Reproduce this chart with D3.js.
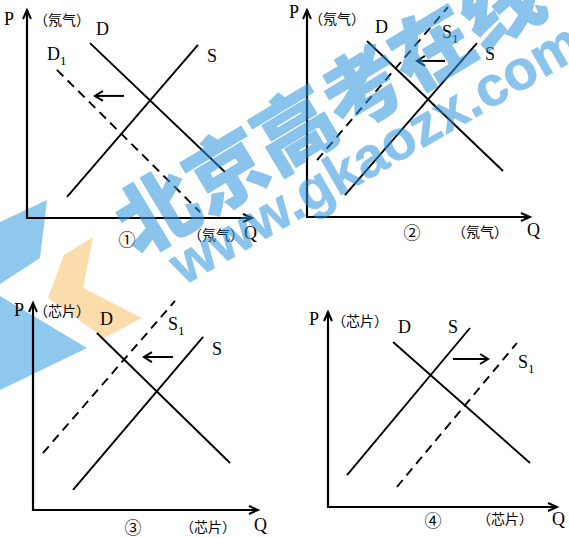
<!DOCTYPE html>
<html>
<head>
<meta charset="utf-8">
<script src="https://cdn.jsdelivr.net/npm/d3@7"></script>
<style>
  body { margin: 0; background: #fff; }
  svg { display: block; }
</style>
</head>
<body>
<div id="chart"></div>
<script>
// ---- data (axis units 0..10) ----
var panelNumbers = ['①', '②', '③', '④'];
var goods = ['氖气', '氖气', '芯片', '芯片'];
// [x1, y1, x2, y2]
var demandLines = [[2.8, 8.41, 8.8, 2.21], [2.69, 8.5, 8.79, 2.22], [2.84, 8.55, 8.76, 2.27], [2.84, 8.46, 8.82, 2.26]];
var supplyLines = [[1.78, 1.01, 7.6, 8.32], [1.7, 1.06, 7.62, 8.4], [1.78, 0.97, 7.56, 8.36], [0.83, 1.64, 6.2, 9.18]];
var shiftedNames = ['D', 'S', 'S', 'S'];
var shiftedLines = [[1.33, 7.12, 7.69, 0.29], [0.45, 2.75, 6.32, 10.14], [0.44, 2.75, 6.31, 10.1], [3.01, 1.03, 8.25, 8.41]];
// [xFrom, xTo, y]
var shiftArrows = [[4.31, 3.02, 5.87], [6.19, 4.93, 7.54], [6.22, 4.93, 7.39], [5.46, 6.99, 7.59]];

// ---- layout (pixels) ----
var frames = [
	{ ox: 27, oy: 218, xEnd: 252, yEnd: 10, p: [4, 25], top: [34, 25], num: [127, 238], bottom: [188, 240], q: [244, 239],
		dLab: [6, -8], sLab: [9, 17], s1Lab: [-10, -10] },
	{ ox: 307, oy: 217, xEnd: 530, yEnd: 10, p: [289, 18], top: [309, 24], num: [412, 231], bottom: [452, 237], q: [527, 236],
		dLab: [8, -8], sLab: [8, 17], s1Lab: [-6, 31] },
	{ ox: 33, oy: 510, xEnd: 258, yEnd: 303, p: [14, 316], top: [34, 316], num: [133, 526], bottom: [180, 532], q: [254, 531],
		dLab: [3, -8], sLab: [9, 18], s1Lab: [-7, 29] },
	{ ox: 328, oy: 507, xEnd: 557, yEnd: 312, p: [309, 325], top: [332, 326], num: [433, 519], bottom: [477, 524], q: [552, 525],
		dLab: [5, -9], sLab: [-22, 5], s1Lab: [1, 25] }
];

var width = 569;
var height = 538;
var latinFont = '"Liberation Serif", "DejaVu Serif", serif';
var cjkFont = '"Noto Sans CJK SC", sans-serif';

var svg = d3.select('#chart')
	.append('svg')
	.attr('width', width)
	.attr('height', height);

svg.append('rect')
	.attr('width', width)
	.attr('height', height)
	.attr('fill', '#fff');

// logo shapes behind the chart
var logo = svg.append('g').classed('logo', true);
logo.append('polygon')
	.attr('points', '0,222 47,200 40,258 0,284')
	.attr('fill', '#8ec8ee');
logo.append('polygon')
	.attr('points', '0,296 87,348 0,390')
	.attr('fill', '#8ec8ee');
logo.append('polygon')
	.attr('points', '93,237 64,255 48,298 104,338 142,318 83,288')
	.attr('fill', '#fbdcaa');

var arrowHead = function(g, x, y, dir, len, half) {
	var pts;
	if (dir === 'up') {
		pts = [[x - half, y + len], [x, y], [x + half, y + len]];
	} else if (dir === 'right') {
		pts = [[x - len, y - half], [x, y], [x - len, y + half]];
	} else {
		pts = [[x + len, y - half], [x, y], [x + len, y + half]];
	}
	g.append('path')
		.attr('d', d3.line()(pts))
		.attr('fill', 'none')
		.attr('stroke', '#000')
		.attr('stroke-width', 2);
};

frames.forEach(function(f, i) {
	var g = svg.append('g').classed('panel', true);
	var x = d3.scaleLinear().domain([0, 10]).range([f.ox, f.xEnd]);
	var y = d3.scaleLinear().domain([0, 10]).range([f.oy, f.yEnd]);

	// axes
	g.append('path')
		.attr('d', d3.line()([[x(0), y(10)], [x(0), y(0)], [x(10), y(0)]]))
		.attr('fill', 'none')
		.attr('stroke', '#000')
		.attr('stroke-width', 2.2);
	arrowHead(g, x(0), y(10), 'up', 9, 4);
	arrowHead(g, x(10), y(0), 'right', 9, 4);

	var lines = [
		{ d: demandLines[i], dashed: false },
		{ d: supplyLines[i], dashed: false },
		{ d: shiftedLines[i], dashed: true }
	];

	g.selectAll('line.curve')
		.data(lines)
		.enter()
		.append('line')
		.classed('curve', true)
		.attr('x1', function(d) { return x(d.d[0]); })
		.attr('y1', function(d) { return y(d.d[1]); })
		.attr('x2', function(d) { return x(d.d[2]); })
		.attr('y2', function(d) { return y(d.d[3]); })
		.attr('stroke', '#000')
		.attr('stroke-width', 1.9)
		.attr('stroke-dasharray', function(d) { return d.dashed ? '9,6' : null; });

	// shift arrow
	var a = shiftArrows[i];
	g.append('line')
		.attr('x1', x(a[0]))
		.attr('y1', y(a[2]))
		.attr('x2', x(a[1]))
		.attr('y2', y(a[2]))
		.attr('stroke', '#000')
		.attr('stroke-width', 2);
	arrowHead(g, x(a[1]), y(a[2]), a[1] > a[0] ? 'right' : 'left', 8, 5);

	// top point of each curve, for the labels
	var topPoint = function(l) {
		return l[1] > l[3] ? [x(l[0]), y(l[1])] : [x(l[2]), y(l[3])];
	};

	var addLatin = function(txt, px, py) {
		return g.append('text')
			.attr('x', px)
			.attr('y', py)
			.style('font-family', latinFont)
			.style('font-size', '18px')
			.text(txt);
	};

	var dp = topPoint(demandLines[i]);
	addLatin('D', dp[0] + f.dLab[0], dp[1] + f.dLab[1]);
	var sp = topPoint(supplyLines[i]);
	addLatin('S', sp[0] + f.sLab[0], sp[1] + f.sLab[1]);
	var s1 = topPoint(shiftedLines[i]);
	var s1Text = addLatin(shiftedNames[i], s1[0] + f.s1Lab[0], s1[1] + f.s1Lab[1]);
	s1Text.append('tspan')
		.attr('dy', 5)
		.style('font-size', '13px')
		.text('1');

	addLatin('P', f.p[0], f.p[1]);
	addLatin('Q', f.q[0], f.q[1]);

	g.append('text')
		.attr('x', f.top[0])
		.attr('y', f.top[1])
		.style('font-family', cjkFont)
		.style('font-size', '14px')
		.text('（' + goods[i] + '）');

	g.append('text')
		.attr('x', f.bottom[0])
		.attr('y', f.bottom[1])
		.style('font-family', cjkFont)
		.style('font-size', '14px')
		.text('（' + goods[i] + '）');

	g.append('text')
		.attr('x', f.num[0])
		.attr('y', f.num[1])
		.attr('text-anchor', 'middle')
		.attr('dominant-baseline', 'central')
		.style('font-family', cjkFont)
		.style('font-size', '17px')
		.text(panelNumbers[i]);
});

// watermark on top
var mark = svg.append('g').classed('watermark', true)
	.style('opacity', 0.55)
	.attr('fill', '#2b93dc')
	.attr('stroke', '#2b93dc')
	.attr('stroke-linejoin', 'round');
mark.append('text')
	.attr('transform', 'translate(326,104) rotate(-31)')
	.attr('text-anchor', 'middle')
	.attr('dominant-baseline', 'central')
	.attr('stroke-width', 1.2)
	.style('font-family', cjkFont)
	.style('font-weight', 900)
	.style('font-size', '80px')
	.text('北京高考在线');
mark.append('text')
	.attr('transform', 'translate(375,153) rotate(-30)')
	.attr('text-anchor', 'middle')
	.attr('dominant-baseline', 'central')
	.attr('stroke-width', 0.6)
	.style('font-family', '"Liberation Sans", Arial, sans-serif')
	.style('font-weight', 'bold')
	.style('font-size', '56px')
	.text('www.gkaozx.com');
</script>
</body>
</html>
